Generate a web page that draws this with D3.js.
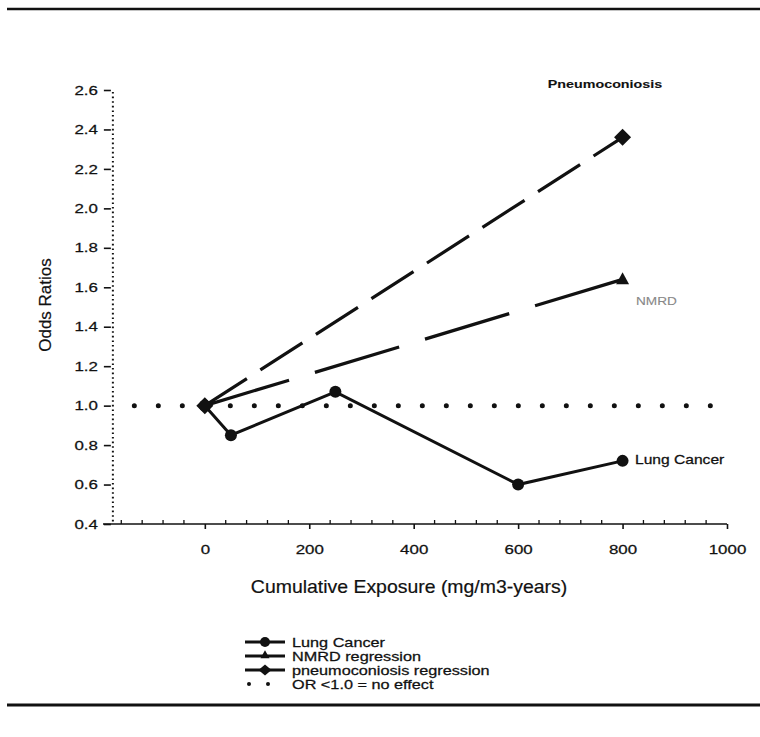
<!DOCTYPE html>
<html>
<head>
<meta charset="utf-8">
<script src="https://cdn.jsdelivr.net/npm/d3@7"></script>
<style>
  html, body { margin: 0; padding: 0; background: #fff; }
  svg { display: block; font-family: "Liberation Sans", Arial, Helvetica, sans-serif; }
</style>
</head>
<body>
<svg id="chart" width="760" height="737"></svg>
<script>
// ---- data ----
const lungX = [0, 50, 250, 600, 800];
const lungY = [1.0, 0.85, 1.07, 0.60, 0.72];
const nmrdX = [0, 800];
const nmrdY = [1.0, 1.64];
const pneumoX = [0, 800];
const pneumoY = [1.0, 2.36];
const refX = [-135, 975];
const refY = [1.0, 1.0];
const xTicks = [0, 200, 400, 600, 800, 1000];
const yTicks = [0.4, 0.6, 0.8, 1.0, 1.2, 1.4, 1.6, 1.8, 2.0, 2.2, 2.4, 2.6];
const legendLabels = ["Lung Cancer", "NMRD regression", "pneumoconiosis regression", "OR <1.0 = no effect"];

const svg = d3.select("#chart");
const x = d3.scaleLinear().domain([-195, 1000]).range([103, 727]);
const y = d3.scaleLinear().domain([0.4, 2.6]).range([524, 90]);
const yAxisAt = -178;
const SX = 1.3; // horizontal stretch of the printed lettering

function label(g, px, py, str, size, opts = {}) {
  const t = g.append("text")
    .attr("transform", `translate(${px},${py}) scale(${opts.sx || SX},1)`)
    .attr("font-size", size).attr("fill", opts.fill || "#111")
    .attr("text-anchor", opts.anchor || "start")
    .text(str);
  if (opts.bold) t.attr("font-weight", "bold");
  if (opts.stroke !== false) t.attr("stroke", opts.fill || "#111").attr("stroke-width", opts.sw || 0.25);
  return t;
}

// frame lines
svg.append("line").attr("x1", 7).attr("x2", 760).attr("y1", 9).attr("y2", 9)
  .attr("stroke", "#111").attr("stroke-width", 2.5);
svg.append("line").attr("x1", 7).attr("x2", 760).attr("y1", 705).attr("y2", 705)
  .attr("stroke", "#111").attr("stroke-width", 3);

// x axis
const xg = svg.append("g").attr("transform", `translate(0,${y(0.4)})`);
xg.append("line").attr("x1", x(-195)).attr("x2", x(1000)).attr("stroke", "#111").attr("stroke-width", 1.6);
const minor = d3.range(-160, 1000, 40).filter(v => v % 200 !== 0);
xg.selectAll("line.minor").data(minor).join("line").attr("class", "minor")
  .attr("x1", d => x(d)).attr("x2", d => x(d)).attr("y1", 0).attr("y2", -4)
  .attr("stroke", "#111").attr("stroke-width", 1.3);
const xAxis = d3.axisBottom(x).tickValues(xTicks).tickSize(5).tickPadding(16).tickFormat(d3.format("d"));
const xa = xg.append("g").call(xAxis);
xa.select(".domain").remove();
xa.selectAll("line").attr("stroke", "#111").attr("stroke-width", 1.6);
xa.selectAll("text").attr("font-size", 13).attr("fill", "#111")
  .attr("stroke", "#111").attr("stroke-width", 0.25)
  .attr("transform", `scale(${SX},1)`);

// y axis
const ya = svg.append("g").attr("transform", `translate(${x(yAxisAt)},0)`)
  .call(d3.axisLeft(y).tickValues(yTicks).tickSize(7).tickPadding(6).tickFormat(d3.format(".1f")));
ya.select(".domain").remove();
ya.selectAll("line").attr("stroke", "#111").attr("stroke-width", 1.6).attr("transform", "translate(-1,0)");
ya.selectAll("text").attr("font-size", 13).attr("fill", "#111")
  .attr("stroke", "#111").attr("stroke-width", 0.25)
  .attr("x", -14 / SX).attr("transform", `scale(${SX},1)`);
svg.append("line").attr("x1", x(yAxisAt) + 1).attr("x2", x(yAxisAt) + 1)
  .attr("y1", y(2.6) + 2).attr("y2", y(0.4))
  .attr("stroke", "#111").attr("stroke-width", 2).attr("stroke-dasharray", "1.6,3");

// axis titles
label(svg, 409, 593, "Cumulative Exposure (mg/m3-years)", 18, { anchor: "middle", sx: 1.08, sw: 0.2 });
svg.append("text").attr("transform", "translate(51,305) rotate(-90)").attr("text-anchor", "middle")
  .attr("font-size", 17).attr("fill", "#111").attr("stroke", "#111").attr("stroke-width", 0.2)
  .text("Odds Ratios");

const line = d3.line().x(d => x(d[0])).y(d => y(d[1]));

// reference line (dots)
svg.append("path").datum(d3.zip(refX, refY)).attr("d", line)
  .attr("fill", "none").attr("stroke", "#111").attr("stroke-width", 5)
  .attr("stroke-linecap", "round").attr("stroke-dasharray", "0,24");

// NMRD regression
svg.append("path").datum(d3.zip(nmrdX, nmrdY)).attr("d", line)
  .attr("fill", "none").attr("stroke", "#111").attr("stroke-width", 3.2)
  .attr("stroke-dasharray", "88,27");
// pneumoconiosis regression
svg.append("path").datum(d3.zip(pneumoX, pneumoY)).attr("d", line)
  .attr("fill", "none").attr("stroke", "#111").attr("stroke-width", 3.2)
  .attr("stroke-dasharray", "50,16");
// lung cancer
svg.append("path").datum(d3.zip(lungX, lungY)).attr("d", line)
  .attr("fill", "none").attr("stroke", "#111").attr("stroke-width", 3);

svg.selectAll("circle.lung").data(d3.zip(lungX, lungY)).join("circle").attr("class", "lung")
  .attr("cx", d => x(d[0])).attr("cy", d => y(d[1])).attr("r", 6).attr("fill", "#111");

const diamondPath = (w, h) => `M0,${-h}L${w},0L0,${h}L${-w},0Z`;
const trianglePath = (w, h) => `M0,${-h * 0.6}L${w},${h * 0.4}L${-w},${h * 0.4}Z`;

svg.append("path").attr("d", trianglePath(6.5, 12)).attr("fill", "#111")
  .attr("transform", `translate(${x(nmrdX[1])},${y(nmrdY[1])})`);
svg.selectAll("path.dia").data(d3.zip(pneumoX, pneumoY)).join("path").attr("class", "dia")
  .attr("d", diamondPath(8.5, 8.5)).attr("fill", "#111")
  .attr("transform", d => `translate(${x(d[0])},${y(d[1])})`);

// labels
label(svg, 605, 88, "Pneumoconiosis", 11, { anchor: "middle", bold: true, sw: 0.1 });
label(svg, 636, 305, "NMRD", 10.5, { fill: "#888", sw: 0.1 });
label(svg, 635, 464, "Lung Cancer", 12);

// legend
const lg = svg.append("g");
const rows = [642, 656, 670, 684];
legendLabels.forEach((lab, i) => {
  const yy = rows[i];
  if (i < 3) {
    lg.append("line").attr("x1", 245).attr("x2", 285).attr("y1", yy).attr("y2", yy)
      .attr("stroke", "#111").attr("stroke-width", 3);
  }
  if (i === 0) lg.append("circle").attr("cx", 265).attr("cy", yy).attr("r", 5).attr("fill", "#111");
  if (i === 1) lg.append("path").attr("d", trianglePath(4.5, 8)).attr("fill", "#111")
    .attr("transform", `translate(265,${yy - 1})`);
  if (i === 2) lg.append("path").attr("d", diamondPath(6.5, 5.5)).attr("fill", "#111")
    .attr("transform", `translate(265,${yy})`);
  if (i === 3) {
    lg.append("circle").attr("cx", 249).attr("cy", yy).attr("r", 2).attr("fill", "#111");
    lg.append("circle").attr("cx", 268).attr("cy", yy).attr("r", 2).attr("fill", "#111");
  }
  label(lg, 292, yy + 4.5, lab, 12.5);
});
</script>
</body>
</html>
